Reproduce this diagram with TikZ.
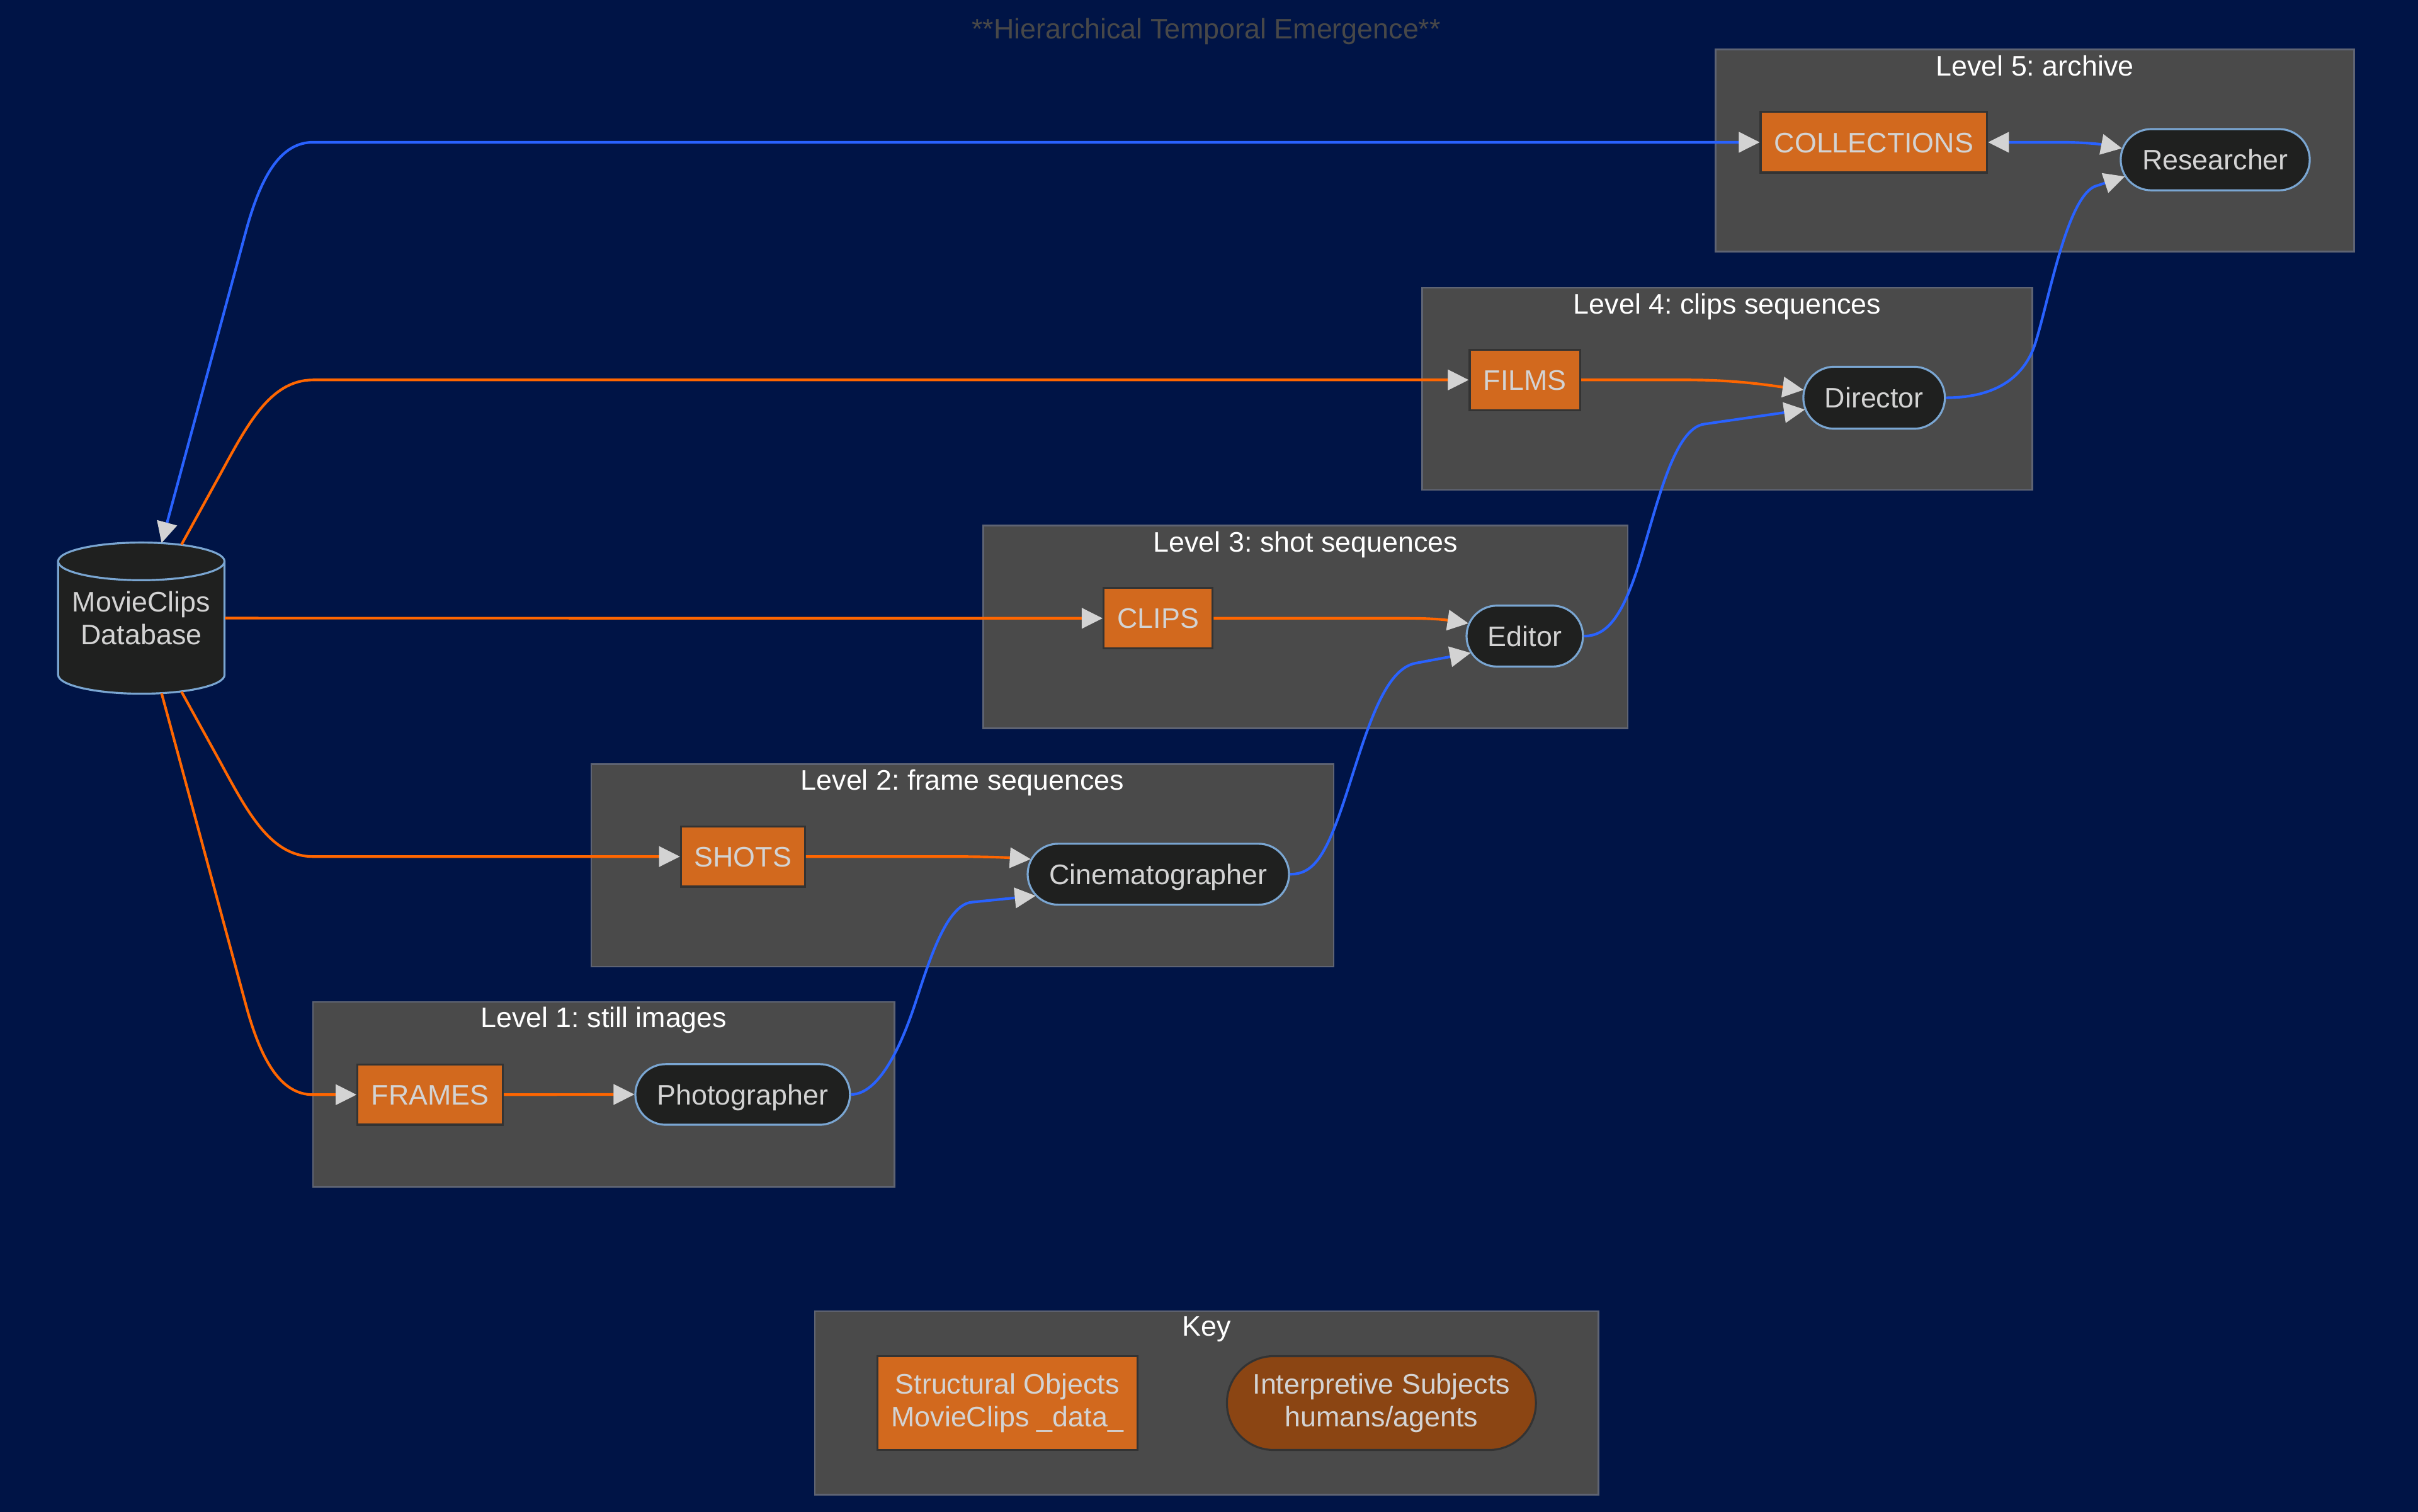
\documentclass[tikz,border=0pt]{standalone}
\usepackage{fontspec}
\setmainfont{Liberation Sans}
\usetikzlibrary{arrows.meta,shapes.misc,calc}
\frenchspacing
\definecolor{bg}{RGB}{0,20,70}
\definecolor{clfill}{RGB}{74,74,74}
\definecolor{clborder}{RGB}{95,100,115}
\definecolor{objfill}{RGB}{210,105,30}
\definecolor{objborder}{RGB}{51,51,51}
\definecolor{subjfill}{RGB}{31,32,31}
\definecolor{subjborder}{RGB}{122,166,210}
\definecolor{keysubj}{RGB}{139,69,19}
\definecolor{nodetext}{RGB}{211,211,211}
\definecolor{edgeorange}{RGB}{255,102,0}
\definecolor{edgeblue}{RGB}{41,98,255}
\definecolor{tipgray}{RGB}{211,211,211}
\definecolor{titlegray}{RGB}{72,72,72}
\tikzset{
  gvtip/.tip={Triangle[length=13.5pt,width=13.5pt,color=tipgray,fill=tipgray,line width=0.4pt]},
  basefont/.style={font=\fontsize{18.3}{21.5}\selectfont\frenchspacing},
  cluster/.style={rectangle, draw=clborder, fill=clfill, line width=1.1pt, inner sep=0pt},
  cltitle/.style={basefont, text=white, anchor=base, inner sep=0pt},
  objbase/.style={rectangle, draw=objborder, fill=objfill, line width=1.3pt, text=nodetext, basefont, inner sep=0pt},
  subjbase/.style={rounded rectangle, draw=subjborder, fill=subjfill, line width=1.3pt, text=nodetext, basefont, inner sep=0pt},
  oneline/.style={text height=13.2pt, text depth=0pt},
  objbox/.style={objbase, oneline},
  subjpill/.style={subjbase, oneline},
  orangeedge/.style={draw=edgeorange, line width=1.7pt, -{gvtip}},
  blueedge/.style={draw=edgeblue, line width=1.7pt, -{gvtip}},
  cylstyle/.style={fill=subjfill, draw=subjborder, line width=1.3pt}
}
\begin{document}
\begin{tikzpicture}[x=1pt,y=-1pt]
\fill[bg] (0,0) rectangle (1568,980.4);
\useasboundingbox (0,0) rectangle (1568,980.4);

% title
\node[basefont, text=titlegray, anchor=base, inner sep=0pt] (title) at (782.2,25.2) {**Hierarchical Temporal Emergence**};

% clusters
\node[cluster, minimum width=413.8pt, minimum height=131.1pt] (L5) at (1319.5,97.55) {};
\node[cltitle] (L5t) at (1319.5,49.1) {Level 5: archive};
\node[cluster, minimum width=395.8pt, minimum height=131.1pt] (L4) at (1120.1,252.15) {};
\node[cltitle] (L4t) at (1120.1,203.6) {Level 4: clips sequences};
\node[cluster, minimum width=417.8pt, minimum height=131.6pt] (L3) at (846.6,406.5) {};
\node[cltitle] (L3t) at (846.6,357.7) {Level 3: shot sequences};
\node[cluster, minimum width=481.4pt, minimum height=131.4pt] (L2) at (624.1,561.1) {};
\node[cltitle] (L2t) at (624.1,512.4) {Level 2: frame sequences};
\node[cluster, minimum width=377.2pt, minimum height=119.7pt] (L1) at (391.5,709.55) {};
\node[cltitle] (L1t) at (391.5,666.3) {Level 1: still images};
\node[cluster, minimum width=508.2pt, minimum height=119pt] (KEY) at (782.5,909.6) {};
\node[cltitle] (KEYt) at (782.5,866.3) {Key};

% database cylinder
\filldraw[cylstyle] (37.7,364) -- (37.7,437.6)
  arc[start angle=180,end angle=0,x radius=53.95,y radius=12.2]
  -- (145.6,364)
  arc[start angle=0,end angle=-180,x radius=53.95,y radius=12.2] -- cycle;
\draw[subjborder, line width=1.3pt] (37.7,364) arc[start angle=180,end angle=0,x radius=53.95,y radius=12.2];
\node[basefont, text=nodetext, align=center, inner sep=0pt, minimum width=107.9pt, minimum height=98pt] (db) at (91.65,400.8) {MovieClips\\Database};

% structural objects
\node[objbox, minimum width=146.9pt, minimum height=39.3pt] (coll) at (1215.15,92.25) {COLLECTIONS};
\node[objbox, minimum width=71.7pt, minimum height=39.3pt] (films) at (988.85,246.35) {FILMS};
\node[objbox, minimum width=70.8pt, minimum height=39.2pt] (clips) at (751,400.9) {CLIPS};
\node[objbox, minimum width=80.5pt, minimum height=39pt] (shots) at (481.75,555.4) {SHOTS};
\node[objbox, minimum width=94.3pt, minimum height=39pt] (frames) at (278.95,709.8) {FRAMES};

% interpretive subjects
\node[subjpill, minimum width=122.6pt, minimum height=39.7pt] (researcher) at (1436.5,103.55) {Researcher};
\node[subjpill, minimum width=91.8pt, minimum height=40.2pt] (director) at (1215.3,257.9) {Director};
\node[subjpill, minimum width=75.5pt, minimum height=39.5pt] (editor) at (988.75,412.45) {Editor};
\node[subjpill, minimum width=169.5pt, minimum height=39.5pt] (cin) at (751.15,566.85) {Cinematographer};
\node[subjpill, minimum width=139.2pt, minimum height=39.3pt] (photo) at (481.6,709.65) {Photographer};

% key
\node[objbase, align=center, minimum width=168.7pt, minimum height=60.9pt] (keyobj) at (653.25,909.75) {Structural Objects\\MovieClips \_data\_};
\node[subjbase, align=center, fill=keysubj, draw=objborder, minimum width=200.4pt, minimum height=60.9pt] (keysubjn) at (895.8,909.75) {Interpretive Subjects\\humans/agents};

% edges from database
\draw[blueedge,{gvtip}-{gvtip}] ($(db.north)+(13.15,0.4)$) -- (160,148) .. controls (170,112) and (183,92.25) .. (203,92.25) -- (coll.west);
\draw[orangeedge] ($(db.north)+(26.05,1.5)$) -- (142,309) .. controls (160,276) and (175,246.35) .. (203,246.35) -- (films.west);
\draw[orangeedge] (db.east) -- (clips.west);
\draw[orangeedge] ($(db.south)+(26.05,-1.5)$) -- (142,492.6) .. controls (160,525.6) and (175,555.4) .. (203,555.4) -- (shots.west);
\draw[orangeedge] ($(db.south)+(13.15,-0.4)$) -- (160,653.6) .. controls (170,689.6) and (183,709.8) .. (203,709.8) -- (frames.west);

% object -> subject edges
\draw[orangeedge] (frames.east) -- (photo.west);
\draw[orangeedge] (shots.east) -- (615,555.4) .. controls (640,555.4) and (652,556) .. ($(cin.west)+(2.6,-9.8)$);
\draw[orangeedge] (clips.east) -- (912,400.9) .. controls (930,400.9) and (938,402) .. ($(editor.west)+(1.8,-8.3)$);
\draw[orangeedge] (films.east) -- (1095,246.35) .. controls (1125,246.35) and (1145,249.5) .. ($(director.west)+(0.7,-5.1)$);
\draw[blueedge,{gvtip}-{gvtip}] (coll.east) -- (1335,92.25) .. controls (1352,92.25) and (1362,93.5) .. ($(researcher.west)+(1.4,-7.4)$);

% subject -> subject edges
\draw[blueedge] (photo.east) .. controls (570,709.65) and (584,678.2) .. (592,655)
  .. controls (600,631.8) and (612,587) .. (630,585) -- ($(cin.west)+(5.8,14)$);
\draw[blueedge] (cin.east) .. controls (852,566.85) and (860,555) .. (873,515)
  .. controls (886,475) and (897,434) .. (918,430) -- ($(editor.west)+(3.3,10.9)$);
\draw[blueedge] (editor.east) .. controls (1042,412.45) and (1052,400) .. (1063,365)
  .. controls (1074,330) and (1085,278) .. (1105,275) -- ($(director.west)+(1.6,7.7)$);
\draw[blueedge] (director.east) .. controls (1285,257.9) and (1311,251) .. (1320,222)
  .. controls (1329,193) and (1340,130) .. (1358,121) -- ($(researcher.west)+(3.3,10.9)$);
\end{tikzpicture}
\end{document}
